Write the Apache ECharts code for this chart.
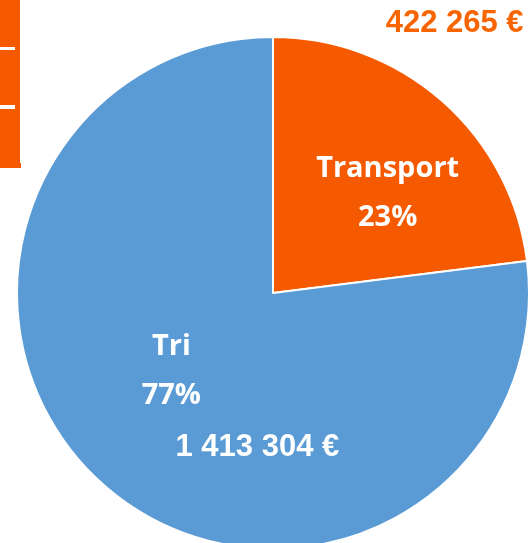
<!DOCTYPE html>
<html>
<head>
<meta charset="utf-8">
<script src="https://cdn.jsdelivr.net/npm/echarts@6/dist/echarts.min.js"></script>
<style>
  html, body { margin: 0; padding: 0; background: #fff; }
  #chart { width: 529px; height: 543px; }
</style>
</head>
<body>
<div id="chart"></div>
<script>
// données du graphique
const categories = ['Transport', 'Tri']
const values = [422265, 1413304]
const colors = ['#F55A00', '#5B9BD5']

// 1413304 -> "1 413 304 €"
function euro(v) {
  return String(v).replace(/\B(?=(\d{3})+(?!\d))/g, ' ') + ' €'
}

const chart = echarts.init(document.getElementById('chart'))

const pieBase = {
  type: 'pie',
  center: [273, 293],
  radius: [0, 256],
  startAngle: 90,
  clockwise: true,
  percentPrecision: 0,
  animation: false,
  labelLine: { show: false }
}

chart.setOption({
  backgroundColor: '#fff',
  graphic: [ // bandeau orange coupé en haut à gauche
    { type: 'rect', shape: { x: 0, y: 0, width: 20, height: 165 }, style: { fill: '#F55A00' } },
    { type: 'rect', shape: { x: 0, y: 163, width: 21, height: 5 }, style: { fill: '#F55A00' } },
    { type: 'rect', shape: { x: 0, y: 47, width: 15, height: 3 }, style: { fill: '#fff' } },
    { type: 'rect', shape: { x: 0, y: 105, width: 15, height: 4 }, style: { fill: '#fff' } }
  ],
  series: [
    Object.assign({}, pieBase, {
      itemStyle: { borderColor: '#fff', borderWidth: 2 },
      label: {
        show: true,
        position: 'inside',
        formatter: '{b}\n{d}%',
        color: '#fff',
        fontFamily: 'Open Sans',
        fontWeight: 'bold',
        fontSize: 29,
        lineHeight: 49,
        align: 'center'
      },
      data: categories.map((c, i) => ({
        name: c,
        value: values[i],
        itemStyle: { color: colors[i] },
        label: { offset: i === 0 ? [28, -2] : [-15, -20] }
      }))
    }),
    Object.assign({}, pieBase, { // étiquettes des montants
      silent: true,
      z: 3,
      itemStyle: { color: 'rgba(0,0,0,0)' },
      label: {
        show: true,
        position: 'inside',
        formatter: p => euro(p.value),
        fontFamily: 'Liberation Sans',
        fontWeight: 'bold',
        fontSize: 31
      },
      data: categories.map((c, i) => ({
        name: c,
        value: values[i],
        label: i === 0
          ? { offset: [95, -171], color: '#F86400' }
          : { offset: [71, 56], color: '#fff' }
      }))
    })
  ]
})
</script>
</body>
</html>
